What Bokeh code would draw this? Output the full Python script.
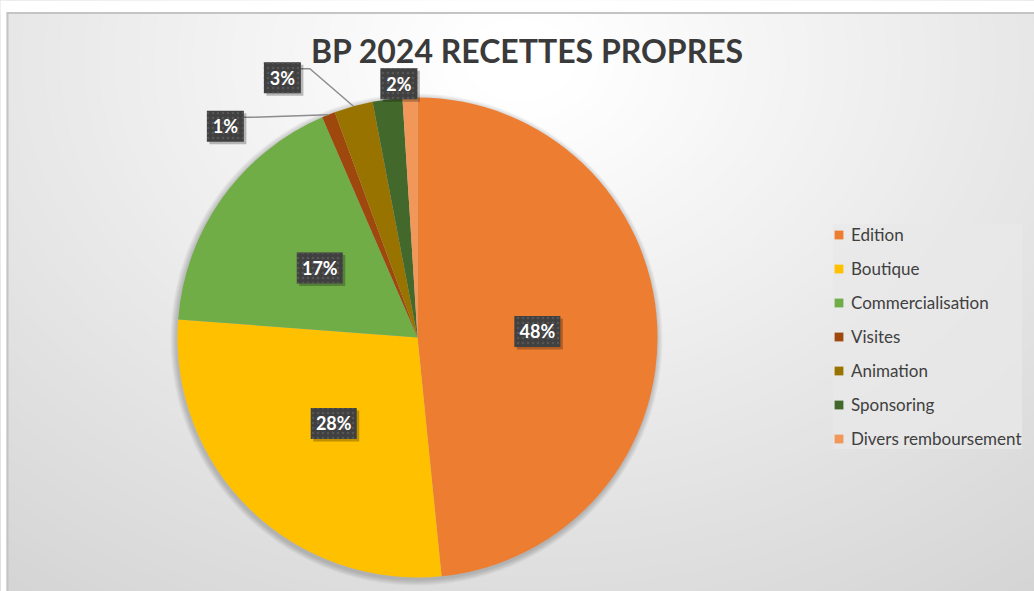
import math
from bokeh.plotting import figure
from bokeh.models import Range1d, ColumnDataSource, Legend, LegendItem
from bokeh.embed import file_html
from bokeh.resources import INLINE
from bokeh.core.properties import value

# ---------------- data ----------------
title_text = "BP 2024 RECETTES PROPRES"
categories = ["Edition", "Boutique", "Commercialisation", "Visites",
              "Animation", "Sponsoring", "Divers remboursement"]
shares = [48.4, 27.8, 17.3, 0.9, 2.6, 2.0, 1.0]
colors = ["#ED7D31", "#FFC000", "#70AD47", "#9E480E", "#997300", "#43682B", "#F1975A"]
show_label = [True, True, True, True, True, True, False]

# ---------------- layout / style ----------------
W, H = 1034, 591
def Y(s):  # screen y -> data y
    return H - s

CX, CY, R = 417, Y(337), 240
FONT = "Lato"
TXT = "#404040"

# label placement (radius factor, angle nudge in degrees clockwise) per slice
label_r = [0.5, 0.5, 0.5, 1.19, 1.22, 1.06, 1.1]
label_nudge = [0, 0, 0, -20.5, -12.0, 3.0, 0]

p = figure(width=W, height=H, x_range=Range1d(0, W), y_range=Range1d(0, H),
           output_backend="svg", toolbar_location=None, min_border=0)
p.axis.visible = False
p.grid.visible = False
p.outline_line_color = None
p.background_fill_color = "white"
p.border_fill_color = "white"

# ---- radial gradient background ----
gx, gy = 520, Y(60)
rs = list(range(840, 0, -6))
gcol = []
for r in rs:
    c = int(round(255 - 0.068 * max(0, r - 40)))
    c = max(c, 0xD0)
    gcol.append("#%02x%02x%02x" % (c, c, c))
p.ellipse(x=[gx] * len(rs), y=[gy] * len(rs), width=[2 * 1.3 * r for r in rs],
          height=[2 * r for r in rs], fill_color=gcol, line_color=None)
# page strips outside chart frame and frame border
p.quad(left=[0, 0], right=[W, 6], bottom=[Y(12), 0], top=[H, H],
       fill_color="white", line_color=None)
p.segment(x0=[6, 7], y0=[Y(12.5), Y(12.5)], x1=[W, 7], y1=[Y(12.5), 0],
          line_color="#c4c4c4", line_width=2)

# ---- pie shadow ----
for k in range(1, 7):
    p.circle(x=[CX - 1], y=[CY - 2], radius=R + k, radius_units="screen",
             fill_color="black", fill_alpha=0.035, line_color=None)

# ---- pie ----
total = sum(shares)
starts, ends, mids = [], [], []
acc = 0.0
for v in shares:
    a0 = acc / total * 2 * math.pi
    acc += v
    a1 = acc / total * 2 * math.pi
    starts.append(math.pi / 2 - a0)
    ends.append(math.pi / 2 - a1)
    mids.append((a0 + a1) / 2)  # clockwise from top, radians

src = ColumnDataSource(dict(cat=categories, start=starts, end=ends, color=colors))
wedges = p.wedge(x=CX, y=CY, radius=R, radius_units="screen", start_angle="start",
                 end_angle="end", direction="clock", fill_color="color",
                 line_color=None, source=src)

# ---- data labels ----
lx, ly, lw, lt = [], [], [], []
lines_x, lines_y = [], []
for i, v in enumerate(shares):
    if not show_label[i]:
        continue
    th = mids[i] + math.radians(label_nudge[i])
    x = CX + label_r[i] * R * math.sin(th)
    y = CY + label_r[i] * R * math.cos(th)
    t = "%d%%" % round(v)
    w = 19 + 9 * len(t)
    lx.append(x); ly.append(y); lw.append(w); lt.append(t)
    if label_r[i] > 1.1:
        ex = CX + R * math.sin(mids[i])
        ey = CY + R * math.cos(mids[i])
        rx = x + w / 2
        lines_x.append([rx, rx + 9, ex])
        lines_y.append([y + 9, y + 9, ey])

p.multi_line(xs=lines_x, ys=lines_y, line_color="#8c8c8c", line_width=1.5)
p.rect(x=[a + 2.5 for a in lx], y=[b - 2.5 for b in ly], width=lw, height=31,
       fill_color="black", fill_alpha=0.25, line_color=None)
p.rect(x=lx, y=ly, width=lw, height=31, fill_color="#404040", line_color=None,
       hatch_pattern="dot", hatch_color="#565656", hatch_scale=5, hatch_weight=1)
p.text(x=lx, y=ly, text=lt, text_font=value(FONT), text_font_style="bold",
       text_font_size="18px", text_color="white", text_align="center",
       text_baseline="middle")

# ---- title ----
p.text(x=[527], y=[Y(50)], text=[title_text], text_font=value(FONT),
       text_font_style="bold", text_font_size="32px", text_color="#3a3a3a",
       text_align="center", text_baseline="middle")

# ---- legend ----
items = [LegendItem(label=c, renderers=[wedges], index=i) for i, c in enumerate(categories)]
legend = Legend(items=items, location=(833, Y(449)), background_fill_color="#e8e8e8",
                background_fill_alpha=0.75, border_line_color=None,
                label_text_font=FONT, label_text_font_size="17px",
                label_text_color=TXT, glyph_width=11, glyph_height=11,
                label_height=21, spacing=13, padding=9, label_standoff=7, margin=0)
p.add_layout(legend, "center")

open("out.html", "w").write(file_html(p, INLINE))
